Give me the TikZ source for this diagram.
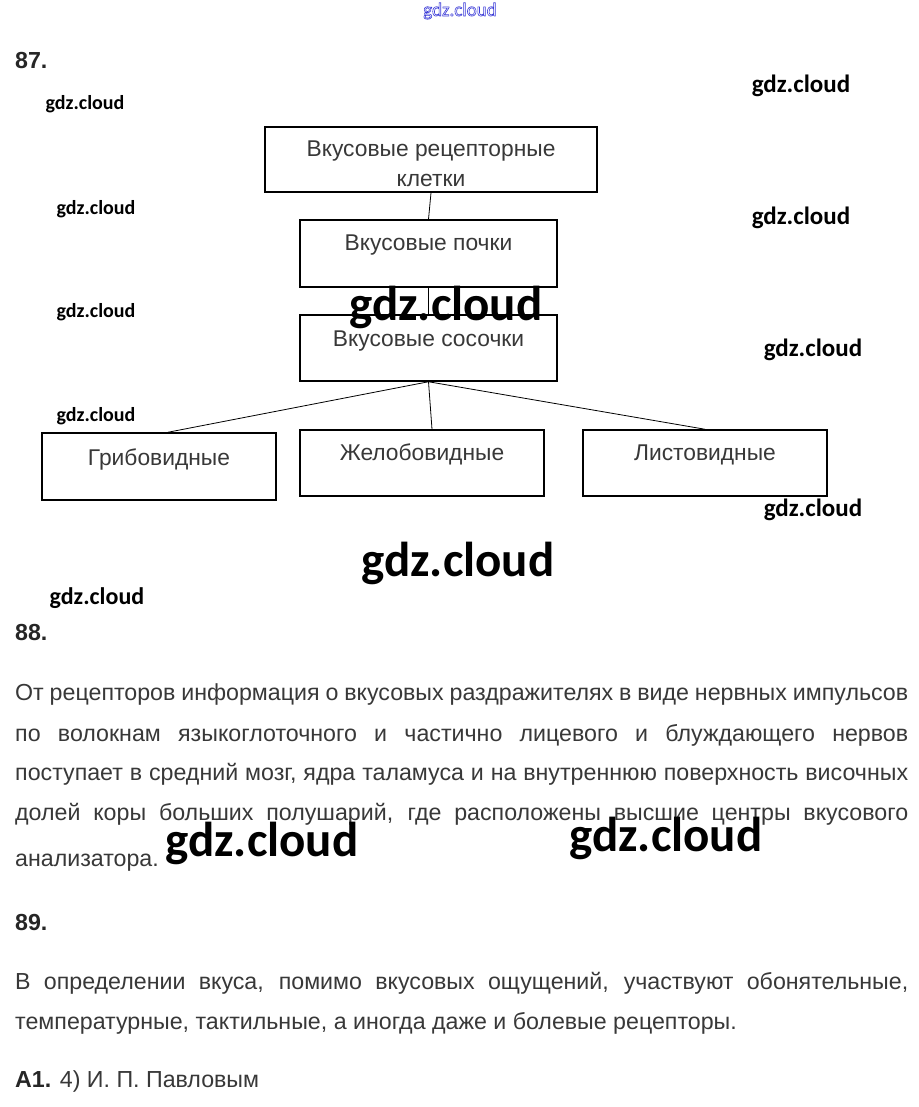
\documentclass[tikz,border=0pt]{standalone}
\usepackage{fontspec}
\setmainfont{Liberation Sans}
\newfontfamily\wmfont{Carlito}
\usetikzlibrary{positioning}
\definecolor{bodygray}{HTML}{383838}
\definecolor{wmblue}{HTML}{3D3DD8}
\tikzset{
    %Define style for boxes
    schemebox/.style n args={2}{
    	rectangle,
    	draw=black, line width=1.5pt,
    	minimum width=#1,
    	minimum height=#2,
    	inner sep=0pt
    },
    % Define style for the text in the boxes
    boxtext/.style={
    	anchor=base,
    	inner sep=0pt,
    	text=bodygray,
    	align=center,
    	font=\fontsize{22.8}{30}\selectfont
    },
    % Define style for the lines of text
    bodytext/.style={
    	anchor=base west,
    	inner sep=0pt,
    	text=bodygray,
    	font=\fontsize{23.2}{27}\selectfont
    },
    headtext/.style={
    	anchor=base west,
    	inner sep=0pt,
    	text=black!85,
    	font=\bfseries\fontsize{23.2}{27}\selectfont
    },
    % Define style for watermarks
    wmark/.style={
    	inner sep=0pt,
    	font=\wmfont\bfseries\fontsize{#1}{#1}\selectfont
    },
    % Define connector style
    link/.style={
    	line width=0.8pt
    }
}

\begin{document}
\begin{tikzpicture}[x=1pt,y=-1pt]
		\useasboundingbox[fill=white] (0,0) rectangle (918,1107);
		% scheme 87
		\node[schemebox={332pt}{65pt}] (cells) at (431,159.5) {};
		\node[schemebox={257pt}{67pt}] (buds) at (428.5,253.5) {};
		\node[schemebox={257pt}{66pt}] (papillae) at (428.5,348) {};
		\node[schemebox={234pt}{67pt}] (fungi) at (159,466.5) {};
		\node[schemebox={244pt}{66pt}] (groove) at (422,463) {};
		\node[schemebox={244pt}{66pt}] (leaf) at (705,463) {};
		\node[boxtext, anchor=center] (cellst) at (431,164) {Вкусовые рецепторные\\клетки};
		\node[boxtext] (budst) at (428.5,251) {Вкусовые почки};
		\node[boxtext] (papillaet) at (428.5,346) {Вкусовые сосочки};
		\node[boxtext] (fungit) at (159,465) {Грибовидные};
		\node[boxtext] (groovet) at (422,460) {Желобовидные};
		\node[boxtext] (leaft) at (705,460) {Листовидные};
		\draw[link] (cells.south) -- (buds.north);
		\draw[link] (buds.south) -- (papillae.north);
		\draw[link] (papillae.south) -- ([xshift=9pt]fungi.north);
		\draw[link] (papillae.south) -- ([xshift=10pt]groove.north);
		\draw[link] (papillae.south) -- (leaf.north);
		% headings
		\node[headtext] (h87) at (15,69) {87.};
		\node[headtext] (h88) at (15,640) {88.};
		\node[headtext] (h89) at (15,930) {89.};
		% answer 88
		\node[bodytext] (a1) at (15,700) {\makebox[893pt][s]{От рецепторов информация о вкусовых раздражителях в виде нервных импульсов}};
		\node[bodytext] (a2) at (15,741) {\makebox[893pt][s]{по волокнам языкоглоточного и частично лицевого и блуждающего нервов}};
		\node[bodytext] (a3) at (15,780) {\makebox[893pt][s]{поступает в средний мозг, ядра таламуса и на внутреннюю поверхность височных}};
		\node[bodytext] (a4) at (15,820) {\makebox[893pt][s]{долей коры больших полушарий, где расположены высшие центры вкусового}};
		\node[bodytext] (a5) at (15,866) {анализатора.};
		% answer 89
		\node[bodytext] (b1) at (15,989) {\makebox[893pt][s]{В определении вкуса, помимо вкусовых ощущений, участвуют обонятельные,}};
		\node[bodytext] (b2) at (15,1029) {температурные, тактильные, а иногда даже и болевые рецепторы.};
		\node[bodytext] (c1) at (15,1087) {\textbf{\color{black!85}A1.} 4) И. П. Павловым};
		% watermarks
		\node[wmark=19, text=wmblue, font=\wmfont\fontsize{19}{19}\selectfont] (wm1) at (460,11) {\special{pdf:code 1 Tr 0.6 w}gdz.cloud\special{pdf:code 0 Tr}};
		\node[wmark=20] (wm2) at (85,104) {gdz.cloud};
		\node[wmark=25] (wm3) at (801,86) {gdz.cloud};
		\node[wmark=20] (wm4) at (96,209) {gdz.cloud};
		\node[wmark=25] (wm5) at (801,218) {gdz.cloud};
		\node[wmark=20] (wm6) at (96,312) {gdz.cloud};
		\node[wmark=49] (wm7) at (446,307) {gdz.cloud};
		\node[wmark=25] (wm8) at (813,350) {gdz.cloud};
		\node[wmark=20] (wm9) at (96,416) {gdz.cloud};
		\node[wmark=25] (wm10) at (813,510) {gdz.cloud};
		\node[wmark=49] (wm11) at (458,563) {gdz.cloud};
		\node[wmark=24] (wm12) at (97,598) {gdz.cloud};
		\node[wmark=49] (wm13) at (262,843) {gdz.cloud};
		\node[wmark=49] (wm14) at (666,838) {gdz.cloud};
\end{tikzpicture}
\end{document}
